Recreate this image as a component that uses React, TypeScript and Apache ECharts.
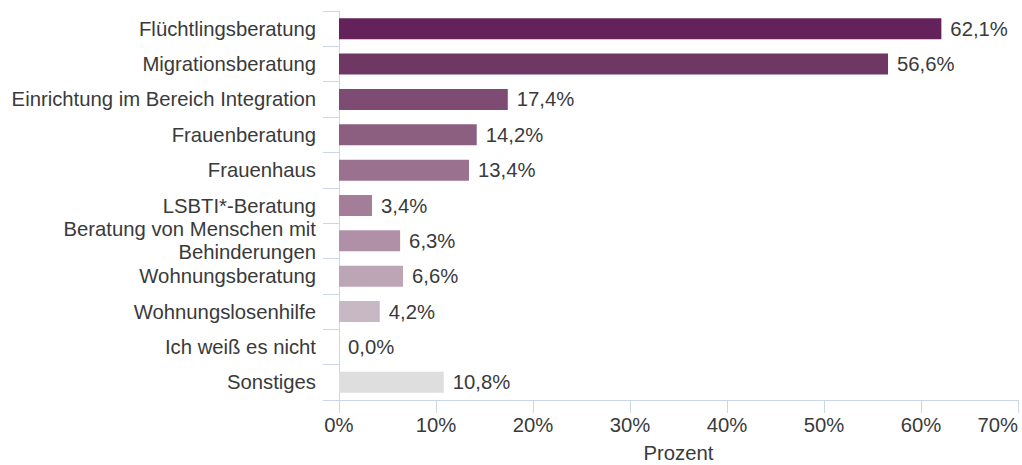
import React, { useEffect, useRef } from "react";
import * as echarts from "echarts";

const categories = [
  "Flüchtlingsberatung",
  "Migrationsberatung",
  "Einrichtung im Bereich Integration",
  "Frauenberatung",
  "Frauenhaus",
  "LSBTI*-Beratung",
  "Beratung von Menschen mit\nBehinderungen",
  "Wohnungsberatung",
  "Wohnungslosenhilfe",
  "Ich weiß es nicht",
  "Sonstiges",
];
const values = [62.1, 56.6, 17.4, 14.2, 13.4, 3.4, 6.3, 6.6, 4.2, 0.0, 10.8];
const colors = [
  "#63235a",
  "#6f3763",
  "#7e4b73",
  "#8c5f81",
  "#9a718f",
  "#a47e99",
  "#af90a6",
  "#bca5b5",
  "#c8b8c3",
  "#d5ccd2",
  "#dedede",
];
const xTicks = [0, 10, 20, 30, 40, 50, 60, 70];

export default function App() {
  const ref = useRef<HTMLDivElement>(null);
  useEffect(() => {
    if (!ref.current) return;
    const chart = echarts.init(ref.current, undefined, { renderer: "svg" });
    const axisColor = "#ccd6eb";
    const font = "Arial, 'Liberation Sans', sans-serif";
    const textColor = "#3a3a3a";
    const fs = 20.3;
    chart.setOption({
      animation: false,
      grid: {
        left: 339,
        right: 4,
        top: 11,
        bottom: 65,
        containLabel: false,
        outerBoundsMode: "none",
      },
      xAxis: {
        type: "value",
        min: xTicks[0],
        max: xTicks[xTicks.length - 1],
        interval: 10,
        name: "Prozent",
        nameLocation: "middle",
        nameGap: 43,
        nameTextStyle: { color: textColor, fontSize: fs, fontFamily: font, lineHeight: 20 },
        axisLine: { show: true, lineStyle: { color: axisColor, width: 1 } },
        axisTick: { show: true, length: 13, lineStyle: { color: axisColor } },
        splitLine: { show: false },
        axisLabel: {
          color: textColor,
          fontSize: fs,
          fontFamily: font,
          margin: 15,
          alignMaxLabel: "right",
          formatter: (v: number) => v + "%",
        },
      },
      yAxis: {
        type: "category",
        inverse: true,
        data: categories,
        axisLine: { show: true, lineStyle: { color: axisColor, width: 1 } },
        axisTick: { show: true, length: 16, lineStyle: { color: axisColor } },
        axisLabel: {
          color: textColor,
          fontSize: fs,
          fontFamily: font,
          margin: 23,
          lineHeight: 23,
          align: "right",
        },
      },
      series: [
        {
          type: "bar",
          barWidth: 21,
          data: values.map((v, i) => ({
            value: v,
            itemStyle: { color: colors[i] },
          })),
          label: {
            show: true,
            position: "right",
            distance: 9,
            color: textColor,
            fontSize: fs,
            fontFamily: font,
            formatter: (p: any) => p.value.toFixed(1).replace(".", ",") + "%",
          },
        },
      ],
    });
    return () => chart.dispose();
  }, []);
  return (
    <div
      ref={ref}
      style={{ position: "absolute", left: 0, top: 0, width: 1022, height: 465 }}
    />
  );
}
